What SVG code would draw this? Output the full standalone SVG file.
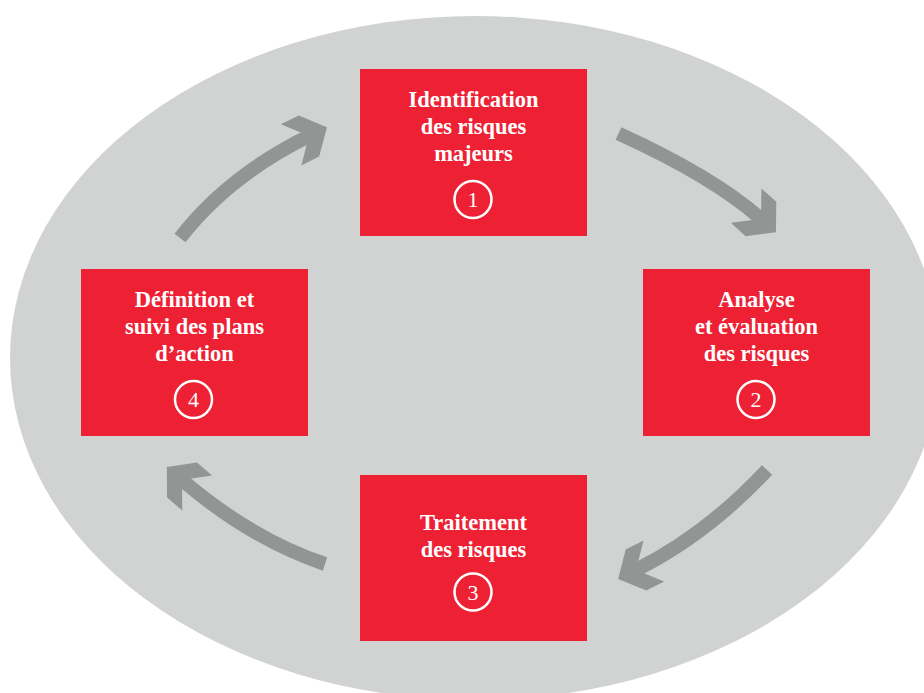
<svg xmlns="http://www.w3.org/2000/svg" width="924" height="693" viewBox="0 0 924 693">
<style>
.box{fill:#ed2133}
.lbl{font-family:"Liberation Serif","Times New Roman",serif;font-weight:bold;font-size:22.5px;fill:#ffffff;text-anchor:middle}
.num{font-family:"Liberation Serif","Times New Roman",serif;font-size:22px;fill:#ffffff;text-anchor:middle}
.ring{fill:none;stroke:#ffffff;stroke-width:2.5}
.conn{fill:none;stroke:#939594;stroke-width:14;stroke-linecap:butt;marker-end:url(#ah)}
</style>
<defs>
<marker id="ah" markerUnits="userSpaceOnUse" viewBox="-42 -25 44 50" markerWidth="44" markerHeight="50" refX="-20" refY="0" orient="auto" overflow="visible">
<path d="M0,0 L-20,-23 L-40,-23 L-20,0 L-40,23 L-20,23 Z" fill="#939594"/>
</marker>
</defs>
<rect x="0" y="0" width="924" height="693" fill="#ffffff"/>
<ellipse cx="475" cy="358" rx="465" ry="342" fill="#d1d3d2"/>
<g id="connectors">
<path class="conn" d="M180,238 Q228,176 309,136"/>
<path class="conn" d="M618.5,133.5 Q714,177 761,219"/>
<path class="conn" d="M767,470 Q707.5,534 636,570"/>
<path class="conn" d="M325,564 Q251,539 182,480"/>
</g>
<g id="node1">
<rect class="box" x="360" y="69" width="227" height="167"/>
<text class="lbl" x="473.5" y="107">Identification</text>
<text class="lbl" x="473.5" y="134">des risques</text>
<text class="lbl" x="473.5" y="160.5">majeurs</text>
<circle class="ring" cx="473" cy="199.5" r="18.5"/>
<text class="num" x="473" y="207">1</text>
</g>
<g id="node2">
<rect class="box" x="643" y="269" width="227" height="167"/>
<text class="lbl" x="756.5" y="307">Analyse</text>
<text class="lbl" x="756.5" y="334">et évaluation</text>
<text class="lbl" x="756.5" y="360.5">des risques</text>
<circle class="ring" cx="756" cy="399.5" r="18.5"/>
<text class="num" x="756" y="407">2</text>
</g>
<g id="node3">
<rect class="box" x="360" y="475" width="227" height="166"/>
<text class="lbl" x="473.5" y="530">Traitement</text>
<text class="lbl" x="473.5" y="557">des risques</text>
<circle class="ring" cx="473" cy="592" r="18.5"/>
<text class="num" x="473" y="599.5">3</text>
</g>
<g id="node4">
<rect class="box" x="81" y="269" width="227" height="167"/>
<text class="lbl" x="194.5" y="307">Définition et</text>
<text class="lbl" x="194.5" y="334">suivi des plans</text>
<text class="lbl" x="194.5" y="360.5">d’action</text>
<circle class="ring" cx="193.5" cy="399.5" r="18.5"/>
<text class="num" x="193.5" y="407">4</text>
</g>
</svg>
